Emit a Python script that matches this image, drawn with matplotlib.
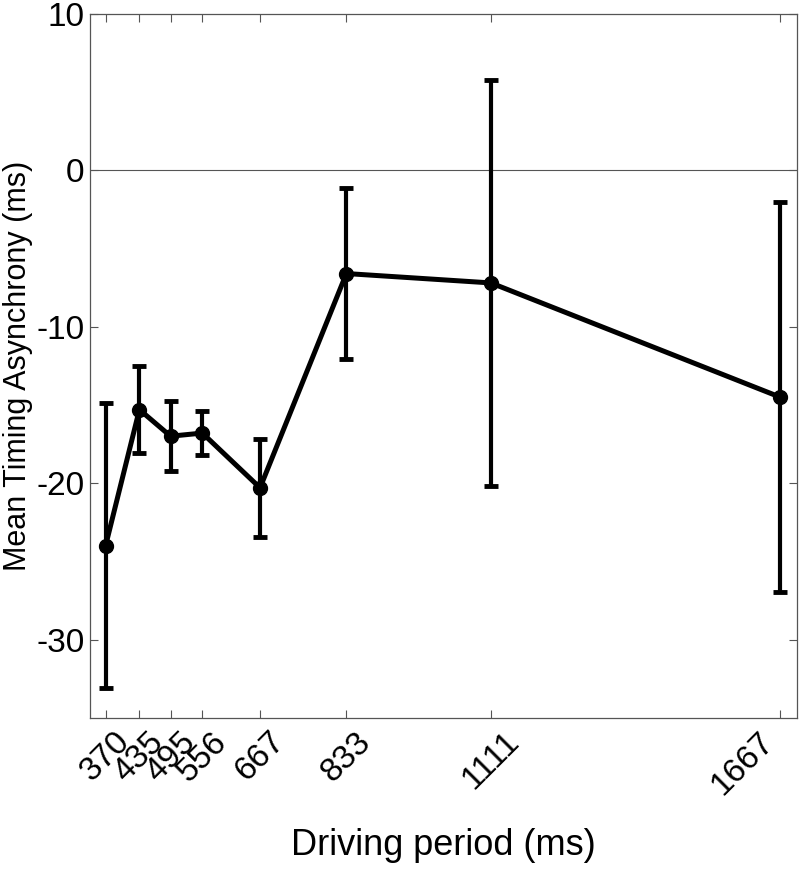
import matplotlib
matplotlib.use('Agg')
import matplotlib.pyplot as plt

# driving periods and mean asynchronies
periods = [370, 435, 495, 556, 667, 833, 1111, 1667]
mean_async = [-24.0, -15.3, -17.0, -16.8, -20.3, -6.6, -7.2, -14.5]
err = [9.1, 2.8, 2.25, 1.4, 3.15, 5.45, 13.0, 12.45]
yticks = [10, 0, -10, -20, -30]

plt.rcParams['font.family'] = ['Liberation Sans', 'DejaVu Sans']

fig = plt.figure(figsize=(8, 8.71), dpi=100)
ax = fig.add_axes([0.1125, 0.176, 0.884, 0.808])

ax.axhline(0, color='#555555', lw=0.8, zorder=1)
ax.errorbar(periods, mean_async, yerr=err, color='black', lw=3.6,
            marker='o', markersize=10, elinewidth=3, capsize=5, capthick=3.5,
            zorder=3)

ax.set_xlim(340, 1700)
ax.set_ylim(-35, 10)
ax.set_xticks(periods)
ax.set_xticklabels([str(p) for p in periods], rotation=45, fontsize=24)
ax.set_yticks(yticks)
ax.set_yticklabels([str(v) for v in yticks], fontsize=24)
ax.tick_params(direction='in', top=True, right=True, length=6, width=0.8,
               color='#555555', pad=6)
ax.tick_params(axis='y', pad=4)
for s in ax.spines.values():
    s.set_color('#555555')
    s.set_linewidth(0.9)

# pull the last label in so it stays inside the figure, like the original
ax.get_xticklabels()[-1].set_ha('right')

ax.set_xlabel('Driving period (ms)', fontsize=26, labelpad=20)
ax.set_ylabel('Mean Timing Asynchrony (ms)', fontsize=22, labelpad=2)

fig.savefig('out.png', dpi=100)
